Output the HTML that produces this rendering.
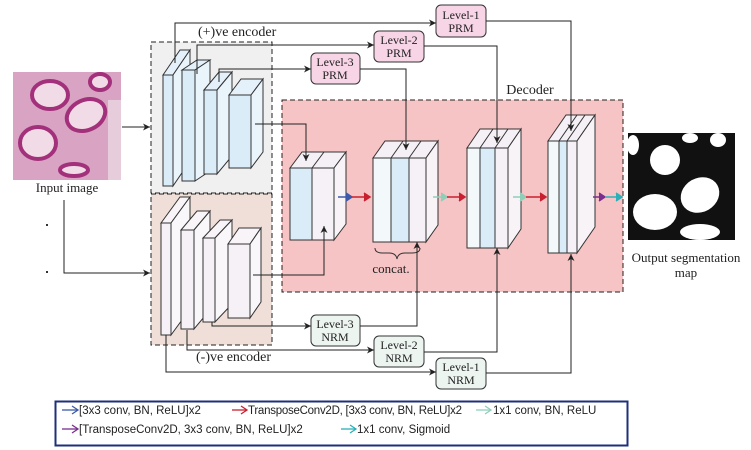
<!DOCTYPE html>
<html><head><meta charset="utf-8"><style>
html,body{margin:0;padding:0;background:#fff;}
svg{display:block;}
.s{font-family:"Liberation Serif",serif;fill:#222;}
.l{font-family:"Liberation Sans",sans-serif;font-size:11.5px;fill:#222;}
</style></head><body>
<svg width="751" height="450" viewBox="0 0 751 450" xmlns="http://www.w3.org/2000/svg">
<defs>
<marker id="a" markerWidth="8" markerHeight="8" refX="7" refY="4" orient="auto" markerUnits="userSpaceOnUse"><path d="M0,0.5 L7,4 L0,7.5 L2,4 Z" fill="#222"/></marker>
</defs>
<rect x="151" y="42" width="121" height="151" fill="#f0f0f0" stroke="#222" stroke-dasharray="5,3"/>
<rect x="151" y="194" width="121" height="151" fill="#efdfd8" stroke="#222" stroke-dasharray="5,3"/>
<rect x="282" y="100" width="341" height="192" fill="#f7c4c5" stroke="#222" stroke-dasharray="5,3"/>
<!-- input image -->
<rect x="13" y="72" width="108" height="108" fill="#d9a3c4"/>
<g fill="#f1dbe7" stroke="#a3307a" stroke-width="4">
<ellipse cx="38" cy="143" rx="18" ry="16"/>
<ellipse cx="86" cy="115" rx="20" ry="15" transform="rotate(-25 86 115)"/>
<ellipse cx="50" cy="95" rx="18" ry="14"/>
<ellipse cx="100" cy="82" rx="10" ry="8"/>
<ellipse cx="74" cy="170" rx="14" ry="6"/>
</g>
<rect x="108" y="100" width="13" height="80" fill="#ead7e2" opacity="0.8"/>
<text x="67" y="192" class="s" font-size="13" text-anchor="middle">Input image</text>
<rect x="46" y="224" width="2" height="2" fill="#333"/><rect x="46" y="271" width="2" height="2" fill="#333"/>
<!-- output image -->
<rect x="628" y="133" width="107" height="107" fill="#111"/>
<g fill="#fff">
<ellipse cx="665" cy="160" rx="15" ry="15"/>
<ellipse cx="700" cy="195" rx="20" ry="17" transform="rotate(-30 700 195)"/>
<ellipse cx="655" cy="212" rx="22" ry="18"/>
<ellipse cx="700" cy="232" rx="20" ry="8"/>
<ellipse cx="718" cy="140" rx="8" ry="7"/>
<ellipse cx="633" cy="145" rx="6" ry="10"/>
<ellipse cx="690" cy="138" rx="8" ry="5"/>
</g>
<text x="686" y="262" class="s" font-size="13" text-anchor="middle">Output segmentation</text>
<text x="686" y="277" class="s" font-size="13" text-anchor="middle">map</text>
<g stroke="#333" stroke-width="1">
<polygon points="163,75 180,50 190,50 173,75" fill="#e4f1fa"/><polygon points="173,75 190,50 190,161 173,186" fill="#eaf4fb"/><rect x="163" y="75" width="10" height="111" fill="#d9ecf8"/>
<polygon points="182,70 197,60 210,60 195,70" fill="#e4f1fa"/><polygon points="195,70 210,60 210,171 195,181" fill="#eaf4fb"/><rect x="182" y="70" width="13" height="111" fill="#d9ecf8"/>
<polygon points="204,90 219,72 232,72 217,90" fill="#e4f1fa"/><polygon points="217,90 232,72 232,156 217,174" fill="#eaf4fb"/><rect x="204" y="90" width="13" height="84" fill="#d9ecf8"/>
<polygon points="229,95 241,79 263,79 251,95" fill="#e4f1fa"/><polygon points="251,95 263,79 263,152 251,168" fill="#eaf4fb"/><rect x="229" y="95" width="22" height="73" fill="#d9ecf8"/>
<polygon points="161,223 180,197 190,197 171,223" fill="#f8f4f8"/><polygon points="171,223 190,197 190,309 171,335" fill="#faf7fa"/><rect x="161" y="223" width="10" height="112" fill="#f6f1f6"/>
<polygon points="181,230 197,211 210,211 194,230" fill="#f8f4f8"/><polygon points="194,230 210,211 210,310 194,329" fill="#faf7fa"/><rect x="181" y="230" width="13" height="99" fill="#f6f1f6"/>
<polygon points="203,238 220,220 232,220 215,238" fill="#f8f4f8"/><polygon points="215,238 232,220 232,304 215,322" fill="#faf7fa"/><rect x="203" y="238" width="12" height="84" fill="#f6f1f6"/>
<polygon points="228,244 239,228 261,228 250,244" fill="#f8f4f8"/><polygon points="250,244 261,228 261,302 250,318" fill="#faf7fa"/><rect x="228" y="244" width="22" height="74" fill="#f6f1f6"/>
<polygon points="290,168 302,152 346,152 334,168" fill="#f5f0f5"/><line x1="312" y1="168" x2="324" y2="152"/><polygon points="334,168 346,152 346,224 334,240" fill="#f7f3f7"/>
<rect x="290" y="168" width="22" height="72" fill="#d9ecf8"/><rect x="312" y="168" width="22" height="72" fill="#f6f1f6"/>
<polygon points="373,158 385,141 438,141 426,158" fill="#f5f0f5"/><line x1="391" y1="158" x2="403" y2="141"/><line x1="409" y1="158" x2="421" y2="141"/><polygon points="426,158 438,141 438,225 426,242" fill="#f7f3f7"/>
<rect x="373" y="158" width="18" height="84" fill="#f3f8fb"/><rect x="391" y="158" width="18" height="84" fill="#d9ecf8"/><rect x="409" y="158" width="17" height="84" fill="#f6f1f6"/>
<polygon points="467,148 480,129 521,129 508,148" fill="#f5f0f5"/><line x1="480" y1="148" x2="493" y2="129"/><line x1="495" y1="148" x2="508" y2="129"/><polygon points="508,148 521,129 521,229 508,248" fill="#f7f3f7"/>
<rect x="467" y="148" width="13" height="100" fill="#f3f8fb"/><rect x="480" y="148" width="15" height="100" fill="#d9ecf8"/><rect x="495" y="148" width="13" height="100" fill="#f6f1f6"/>
<polygon points="548,141 566,115 595,115 577,141" fill="#f5f0f5"/><line x1="559" y1="141" x2="577" y2="115"/><line x1="567" y1="141" x2="585" y2="115"/><polygon points="577,141 595,115 595,227 577,253" fill="#f7f3f7"/>
<rect x="548" y="141" width="11" height="112" fill="#f3f8fb"/><rect x="559" y="141" width="8" height="112" fill="#d9ecf8"/><rect x="567" y="141" width="10" height="112" fill="#f6f1f6"/>
</g>
<g stroke="#333" stroke-width="1">
<rect x="436" y="5" width="50" height="32" rx="5" fill="#f8d5e6"/>
<rect x="374" y="31" width="50" height="31" rx="5" fill="#f8d5e6"/>
<rect x="311" y="53" width="49" height="31" rx="5" fill="#f8d5e6"/>
<rect x="311" y="315" width="49" height="31" rx="5" fill="#edf5f1"/>
<rect x="374" y="336" width="50" height="31" rx="5" fill="#edf5f1"/>
<rect x="436" y="358" width="50" height="31" rx="5" fill="#edf5f1"/>
</g>
<g class="s" font-size="12" text-anchor="middle">
<text x="461" y="19">Level-1</text><text x="461" y="32">PRM</text>
<text x="399" y="44">Level-2</text><text x="399" y="57">PRM</text>
<text x="335" y="66">Level-3</text><text x="335" y="79">PRM</text>
<text x="335" y="328">Level-3</text><text x="335" y="341">NRM</text>
<text x="399" y="349">Level-2</text><text x="399" y="362">NRM</text>
<text x="461" y="371">Level-1</text><text x="461" y="384">NRM</text>
</g>
<text x="198" y="36" class="s" font-size="14">(+)ve encoder</text>
<text x="196" y="361" class="s" font-size="14">(-)ve encoder</text>
<text x="530" y="94" class="s" font-size="14" text-anchor="middle">Decoder</text>
<text x="391" y="273" class="s" font-size="13" text-anchor="middle">concat.</text>
<path d="M375,248 q0,5 8,5 h6 q7,0 8,6 q1,-6 8,-6 h7 q8,0 8,-5" fill="none" stroke="#333"/>
<g fill="none" stroke="#222" stroke-width="1" marker-end="url(#a)">
<path d="M122,127 H150"/>
<path d="M64,200 V273 H150"/>
<path d="M175,63 V23 H436"/>
<path d="M486,21 H571 V131"/>
<path d="M197,74 V45 H374"/>
<path d="M424,46 H497 V143"/>
<path d="M219,82 V69 H311"/>
<path d="M360,69 H406 V150"/>
<path d="M255,124 H306 V161"/>
<path d="M253,275 H324 V226"/>
<path d="M212,322 V326 H311"/>
<path d="M360,326 H417 V242"/>
<path d="M187,330 V350 H374"/>
<path d="M424,352 H497 V248"/>
<path d="M166,335 V372 H436"/>
<path d="M486,373 H571 V254"/>
</g>
<g stroke-width="1.5" fill="none">
<line x1="338" y1="197" x2="351" y2="197" stroke="#3c5aa8"/><path d="M346,193 L352,197 L346,201" fill="#3c5aa8" stroke="#3c5aa8"/>
<line x1="352" y1="197" x2="369" y2="197" stroke="#c8202e"/><path d="M364,193 L370,197 L364,201" fill="#c8202e" stroke="#c8202e"/>
<line x1="433" y1="197" x2="446" y2="197" stroke="#8fcfb9"/><path d="M441,193 L447,197 L441,201" fill="#8fcfb9" stroke="#8fcfb9"/>
<line x1="447" y1="197" x2="464" y2="197" stroke="#c8202e"/><path d="M459,193 L465,197 L459,201" fill="#c8202e" stroke="#c8202e"/>
<line x1="513" y1="197" x2="525" y2="197" stroke="#8fcfb9"/><path d="M520,193 L526,197 L520,201" fill="#8fcfb9" stroke="#8fcfb9"/>
<line x1="526" y1="197" x2="545" y2="197" stroke="#c8202e"/><path d="M540,193 L546,197 L540,201" fill="#c8202e" stroke="#c8202e"/>
<line x1="593" y1="197" x2="604" y2="197" stroke="#7a2e8e"/><path d="M599,193 L605,197 L599,201" fill="#7a2e8e" stroke="#7a2e8e"/>
<line x1="605" y1="197" x2="621" y2="197" stroke="#2ab0b8"/><path d="M616,193 L622,197 L616,201" fill="#2ab0b8" stroke="#2ab0b8"/>
</g>
<rect x="55.5" y="401.5" width="572" height="44" fill="#fff" stroke="#1f2f7a" stroke-width="2"/>
<g stroke-width="1.3">
<line x1="62" y1="410" x2="77" y2="410" stroke="#3c5aa8"/><path d="M72,406 L78,410 L72,414" fill="none" stroke="#3c5aa8"/>
<line x1="232" y1="410" x2="246" y2="410" stroke="#c8202e"/><path d="M241,406 L247,410 L241,414" fill="none" stroke="#c8202e"/>
<line x1="476" y1="410" x2="490" y2="410" stroke="#8fcfb9"/><path d="M485,406 L491,410 L485,414" fill="none" stroke="#8fcfb9"/>
<line x1="62" y1="429" x2="77" y2="429" stroke="#7a2e8e"/><path d="M72,425 L78,429 L72,433" fill="none" stroke="#7a2e8e"/>
<line x1="341" y1="429" x2="355" y2="429" stroke="#2ab0b8"/><path d="M350,425 L356,429 L350,433" fill="none" stroke="#2ab0b8"/>
</g>
<text x="79" y="414" class="l">[3x3 conv, BN, ReLU]x2</text>
<text x="248" y="414" class="l" textLength="214">TransposeConv2D, [3x3 conv, BN, ReLU]x2</text>
<text x="493" y="414" class="l">1x1 conv, BN, ReLU</text>
<text x="79" y="433" class="l">[TransposeConv2D, 3x3 conv, BN, ReLU]x2</text>
<text x="357" y="433" class="l">1x1 conv, Sigmoid</text>
</svg>
</body></html>
